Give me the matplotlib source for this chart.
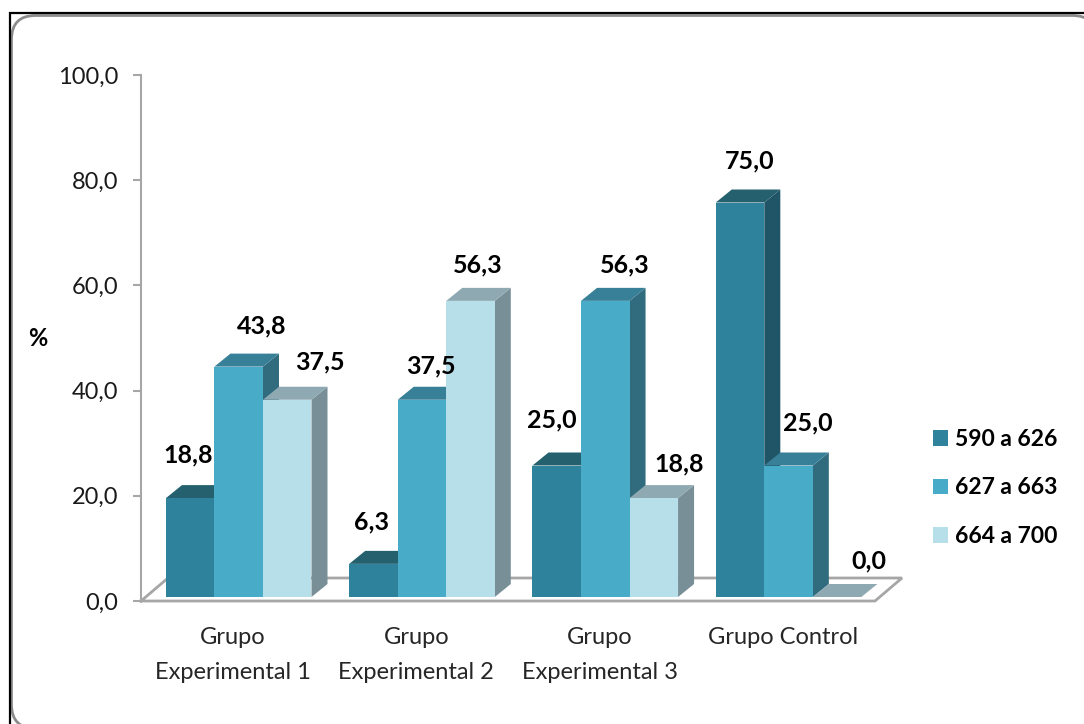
import matplotlib
matplotlib.use("Agg")
import matplotlib.pyplot as plt
from matplotlib.patches import FancyBboxPatch, Patch

categories = ["Grupo\nExperimental 1", "Grupo\nExperimental 2", "Grupo\nExperimental 3", "Grupo Control"]
series_names = ["590 a 626", "627 a 663", "664 a 700"]
low_range = [18.8, 6.3, 25.0, 75.0]
mid_range = [43.8, 37.5, 56.3, 25.0]
high_range = [37.5, 56.3, 18.8, 0.0]
y_ticks = [0, 20, 40, 60, 80, 100]

front_colors = ["#2F829C", "#48ABC8", "#B7DFEA"]
top_colors = ["#25606F", "#388097", "#8FA9B2"]
side_colors = ["#1F5567", "#316C7E", "#788F98"]
grey = "#A6A6A6"

# hand-placed label offsets from the top of each bar (pixels: right, up)
label_dx = [[-2, 23, 33], [-2, 9, 7], [-5, 19, 25], [10, 19, 32]]
label_dy = [[43, 41, 38], [42, 34, 36], [46, 36, 34], [42, 43, 36]]

W, H = 1084, 724
plt.rcParams["font.family"] = "Lato"
fig = plt.figure(figsize=(W / 100, H / 100), dpi=100)

# page frame in pixel units
bg = fig.add_axes([0, 0, 1, 1])
bg.set_xlim(0, W)
bg.set_ylim(H, 0)
bg.axis("off")
bg.add_patch(FancyBboxPatch((11.5, 15.5), 1085, 713, boxstyle="round,pad=0,rounding_size=24",
                            fc="white", ec="#8C8C8C", lw=2))
bg.plot([9.5, 9.5, W], [H, 13, 13], color="black", lw=1.6, solid_joinstyle="miter")

ax = fig.add_axes([141 / W, (H - 601) / H, 739 / W, 526 / H])
ax.patch.set_alpha(0)
ax.set_xlim(-0.502, 3.53)
ax.set_ylim(0, 100)

# size of one pixel in data units
px_x = 1 / 183.2
px_y = 1 / 5.26
bar_w = 48.5 * px_x
depth_x = 16 * px_x
depth_y = 13 * px_y
base = 4 * px_y
shift = 5.7 * px_x

# floor of the 3d box
floor_x = 27 * px_x
floor_y = 23 * px_y
x0 = ax.get_xlim()[0]
x1 = ax.get_xlim()[1] - 5 * px_x
ax.fill([x0, x1, x1 + floor_x, x0 + floor_x], [0, 0, floor_y, floor_y], color="white",
        clip_on=False, zorder=1)
ax.plot([x0, x0 + floor_x, x1 + floor_x, x1, x0], [0, floor_y, floor_y, 0, 0], color=grey, lw=2,
        clip_on=False, zorder=1.5, solid_joinstyle="miter")

all_values = [low_range, mid_range, high_range]
order = 2
for c in range(len(categories)):
    for s in range(3):
        v = all_values[s][c]
        left = c + shift + (s - 1.5) * bar_w
        right = left + bar_w
        top = base + v
        if v > 0:
            ax.bar(left, v, bar_w, bottom=base, align="edge", color=front_colors[s], zorder=order + 2)
            ax.fill([right, right + depth_x, right + depth_x, right],
                    [base, base + depth_y, top + depth_y, top], color=side_colors[s], lw=0, zorder=order)
        ax.fill([left, right, right + depth_x, left + depth_x],
                [top, top, top + depth_y, top + depth_y], color=top_colors[s], lw=0, zorder=order + 1)
        order += 3
        ax.annotate(f"{v:.1f}".replace(".", ","), (left + bar_w / 2, top),
                    xytext=(label_dx[c][s] * 0.72, label_dy[c][s] * 0.72), textcoords="offset points",
                    ha="center", va="center", fontsize=18, fontweight="bold", color="black",
                    zorder=500, annotation_clip=False)

for name in ["top", "right", "bottom"]:
    ax.spines[name].set_visible(False)
ax.spines["left"].set_color(grey)
ax.spines["left"].set_linewidth(1.5)
ax.set_yticks(y_ticks)
ax.set_yticklabels([f"{t:.1f}".replace(".", ",") for t in y_ticks], fontsize=17, color="#1A1A1A")
ax.tick_params(axis="y", color=grey, width=1.5, length=6, pad=10.5)
ax.set_xticks(range(len(categories)))
ax.set_xticklabels(categories, fontsize=17, color="#262626", linespacing=1.8)
ax.tick_params(axis="x", length=0, pad=19)

fig.text(38 / W, 1 - 339 / H, "%", ha="center", va="center", fontsize=17, fontweight="bold")

handles = [Patch(facecolor=c, edgecolor="none", label=n) for c, n in zip(front_colors, series_names)]
fig.legend(handles=handles, loc="center left", bbox_to_anchor=(912 / W, 1 - 488 / H), frameon=False,
           prop={"family": "Lato", "size": 16.5, "weight": "bold"}, handlelength=0.68, handleheight=0.68,
           handletextpad=0.3, labelspacing=1.2)

fig.savefig("out.png", dpi=100)
